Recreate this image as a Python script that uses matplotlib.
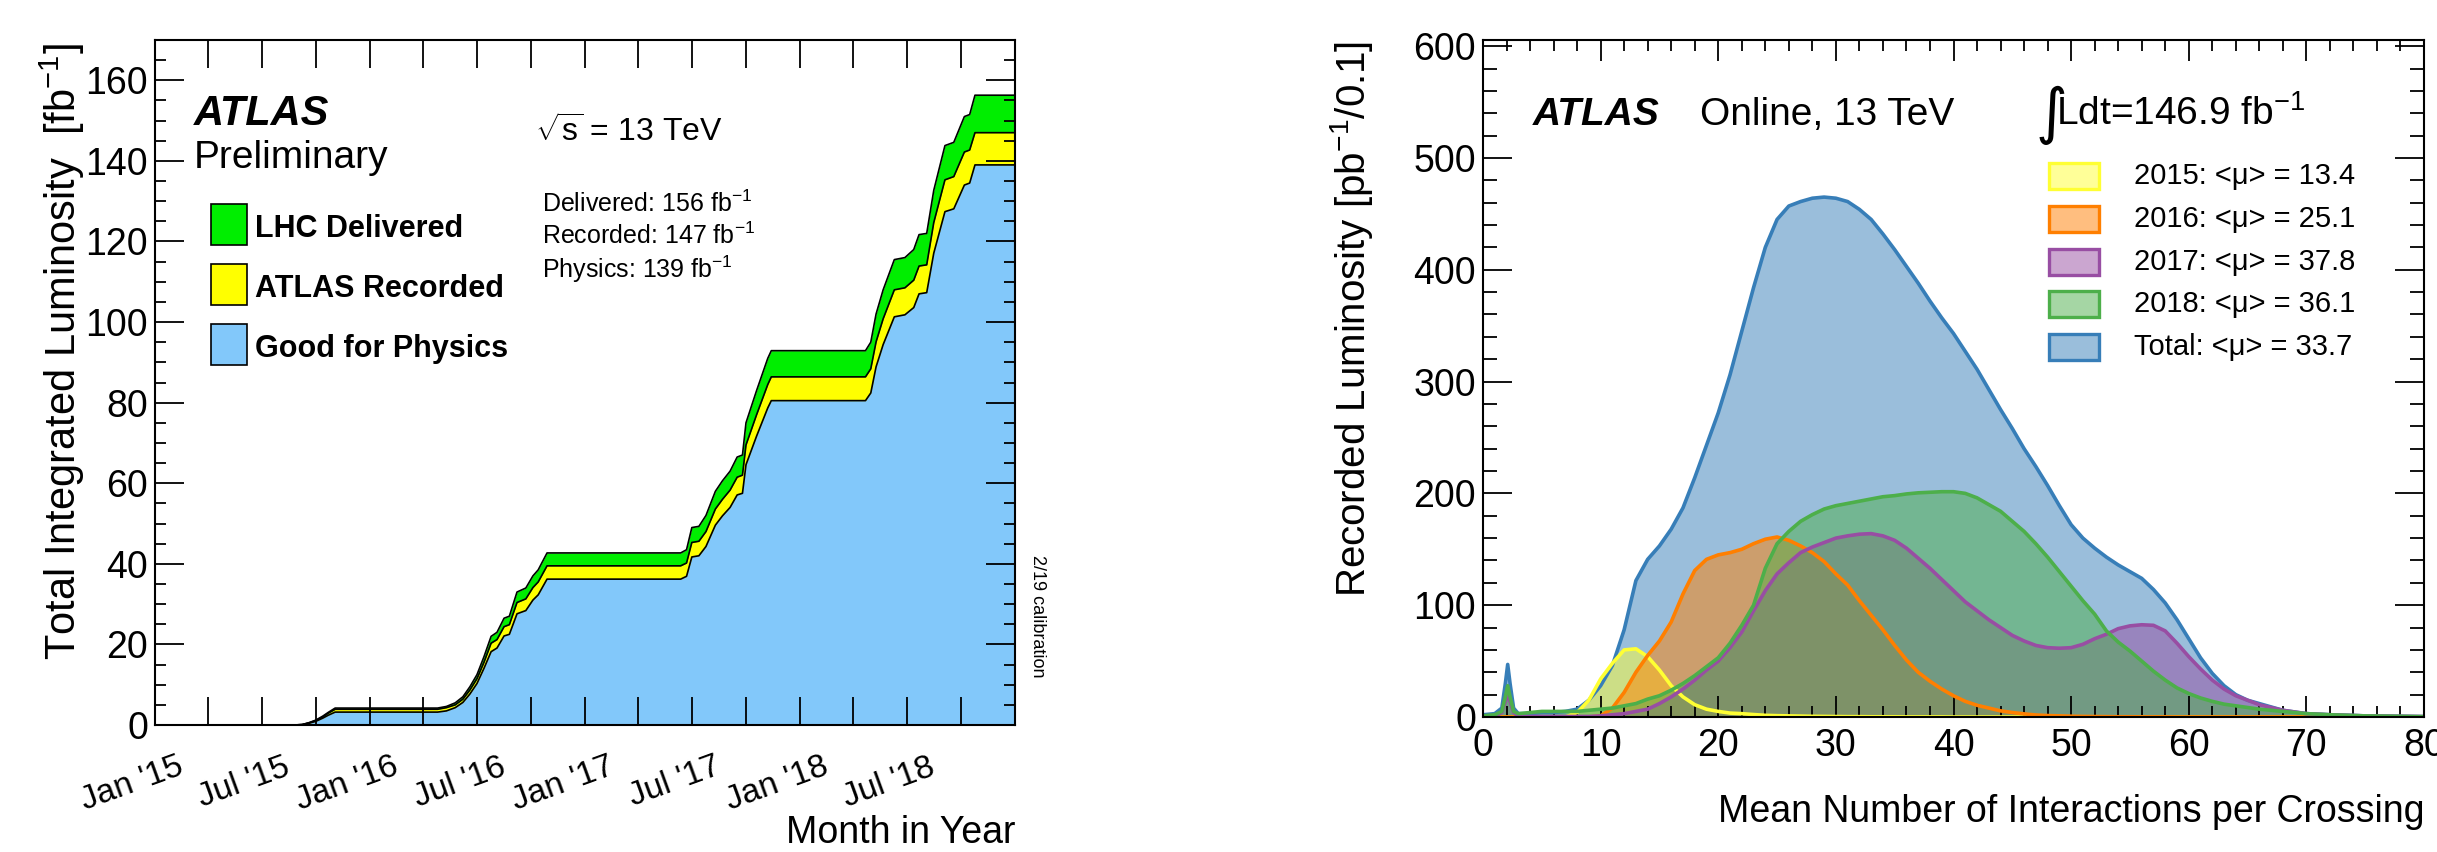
import pandas as pd
import matplotlib.pyplot as plt
import matplotlib.dates as mdates
import matplotlib.transforms as mtransforms
from matplotlib.patches import Rectangle
from matplotlib.ticker import MultipleLocator, FuncFormatter

plt.rcParams['font.family'] = 'Liberation Sans'
plt.rcParams['mathtext.fontset'] = 'custom'
plt.rcParams['mathtext.rm'] = 'Liberation Sans'
plt.rcParams['mathtext.it'] = 'Liberation Sans:italic'
plt.rcParams['mathtext.bf'] = 'Liberation Sans:bold'

# ---- left panel: cumulative luminosity vs date (fb^-1) ----
lumi_dates = ['2015-01-01', '2015-08-25', '2015-09-08', '2015-09-20', '2015-10-01',
              '2015-10-13', '2015-10-22', '2015-11-03', '2016-04-25', '2016-05-10',
              '2016-05-25', '2016-06-07', '2016-06-19', '2016-07-01', '2016-07-13',
              '2016-07-25', '2016-08-04', '2016-08-16', '2016-08-25', '2016-09-07',
              '2016-09-22', '2016-10-04', '2016-10-13', '2016-10-28', '2017-06-12',
              '2017-06-22', '2017-07-01', '2017-07-13', '2017-07-25', '2017-08-10',
              '2017-08-22', '2017-09-04', '2017-09-16', '2017-09-25', '2017-10-01',
              '2017-10-19', '2017-11-07', '2017-11-13', '2018-04-22', '2018-05-01',
              '2018-05-10', '2018-05-22', '2018-06-10', '2018-06-28', '2018-07-13',
              '2018-07-22', '2018-08-04', '2018-08-16', '2018-09-04', '2018-09-19',
              '2018-10-07', '2018-10-16', '2018-10-25', '2019-01-01']
delivered = [0, 0, 0.1, 0.6, 1.2, 2.2, 3.1, 4.2, 4.2, 4.6,
             5.5, 7.0, 9.5, 12.5, 17.0, 22.0, 23.0, 26.5, 27.0, 33.0,
             34.0, 37.0, 38.5, 42.7, 42.7, 43.5, 49.0, 49.3, 52.0, 58.0,
             60.6, 63.0, 66.5, 67.0, 75.0, 83.0, 91.0, 92.9, 92.9, 95.0,
             102.0, 108.0, 115.5, 116.0, 118.0, 121.7, 122.0, 132.7, 143.8, 144.6,
             151.0, 151.5, 156.3, 156.3]
recorded = [0, 0, 0.1, 0.55, 1.1, 2.0, 2.9, 3.9, 3.9, 4.3,
            5.0, 6.4, 8.7, 11.5, 15.6, 20.3, 21.2, 24.4, 24.9, 30.4,
            31.3, 34.1, 35.5, 39.5, 39.5, 40.2, 45.3, 45.6, 48.0, 53.6,
            56.0, 58.3, 61.5, 62.0, 69.5, 77.0, 84.5, 86.4, 86.4, 88.4,
            95.1, 100.8, 108.0, 108.5, 110.4, 113.9, 114.2, 124.7, 135.3, 136.1,
            142.2, 142.7, 147.0, 147.0]
physics = [0, 0, 0.1, 0.45, 0.9, 1.7, 2.4, 3.2, 3.2, 3.5,
           4.3, 5.6, 7.7, 10.3, 14.1, 18.2, 19.1, 22.1, 22.5, 27.6,
           28.4, 31.0, 32.3, 36.2, 36.2, 36.9, 41.7, 42.0, 44.3, 49.6,
           51.9, 54.0, 57.1, 57.5, 64.6, 71.7, 78.7, 80.5, 80.5, 82.4,
           88.9, 94.4, 101.3, 101.8, 103.6, 107.0, 107.3, 117.1, 127.4, 128.1,
           134.0, 134.5, 139.0, 139.0]

# ---- right panel: recorded luminosity vs <mu> (pb^-1/0.1) ----
mu = ([0, 1, 1.6, 1.9, 2.1, 2.3, 2.6, 3] + list(range(4, 67)) + [68, 70, 72, 75, 80])
total = [2, 3, 8, 30, 47, 30, 8, 3,
         3, 4, 4, 5, 7, 15, 28, 46, 78, 122,
         141, 153, 168, 187, 214, 243, 272, 306, 345, 384,
         420, 445, 457, 461, 464, 465, 464, 461, 454, 445,
         432, 418, 403, 388, 372, 357, 343, 327, 311, 293,
         275, 258, 240, 224, 207, 189, 172, 160, 151, 143,
         136, 130, 124, 114, 102, 87, 70, 53, 39, 28,
         20, 15, 12,
         6, 3, 2, 1, 0.3]
y2015 = [0, 0, 0, 0, 0, 0, 0, 0,
         0, 0, 0, 0, 4, 15, 34, 48, 60, 61,
         54, 42, 28, 18, 11, 7, 5, 3.5, 3, 2.2,
         1.5, 1.2, 1, 0.8, 0.6, 0.5, 0.4, 0.3, 0.3, 0.2,
         0.2, 0.2, 0.1, 0.1, 0.1, 0.1, 0, 0, 0, 0,
         0, 0, 0, 0, 0, 0, 0, 0, 0, 0,
         0, 0, 0, 0, 0, 0, 0, 0, 0, 0,
         0, 0, 0,
         0, 0, 0, 0, 0]
y2016 = [0, 0, 0, 0, 0, 0, 0, 0,
         0, 0, 0, 0, 0, 0, 1, 8, 22, 40,
         55, 68, 85, 110, 131, 141, 145, 147, 150, 155,
         159, 161, 158, 153, 147, 139, 128, 118, 104, 91,
         78, 64, 51, 40, 32, 25, 19, 14, 10.5, 8,
         5.5, 4, 2.8, 1.8, 1.3, 1, 0.7, 0.5, 0.4, 0.3,
         0.2, 0.2, 0.1, 0.1, 0.1, 0, 0, 0, 0, 0,
         0, 0, 0,
         0, 0, 0, 0, 0]
y2017 = [0, 0.5, 4, 14, 21, 14, 4, 0.5,
         0.5, 0.5, 0.5, 0.5, 0.5, 0.5, 1, 2, 3, 5,
         7, 12, 18, 25, 33, 42, 50, 62, 76, 95,
         113, 128, 138, 147, 152, 156, 160, 162, 163.5, 164,
         162, 158, 151, 142, 133, 123, 113, 103, 95, 87,
         80, 73, 68, 64, 62, 61.5, 62, 65, 70, 74,
         79, 81.5, 82.5, 82, 77, 66, 54, 43, 33, 25,
         19, 15, 11,
         6, 3, 2, 1, 0.4]
y2018 = [1, 2, 5, 18, 28, 18, 5, 3,
         4, 5, 5, 5, 5, 6, 7, 8, 10, 12,
         16, 19, 24, 30, 37, 45, 53, 66, 82, 100,
         133, 155, 166, 175, 181, 186, 189, 191, 193, 195,
         197, 198, 199.5, 200.5, 201, 201.5, 201.5, 200, 196, 190,
         184, 175, 166, 155, 143, 130, 117, 104, 92, 77,
         67, 59, 50, 41, 33, 26, 21, 17, 14, 11.5,
         10, 8.5, 7,
         5, 3, 2, 1, 0.3]

year_labels = ['2015: <\u03bc> = 13.4', '2016: <\u03bc> = 25.1', '2017: <\u03bc> = 37.8',
               '2018: <\u03bc> = 36.1', 'Total: <\u03bc> = 33.7']

fig = plt.figure(figsize=(24.37, 8.52), dpi=100)

# ================= left panel =================
ax = fig.add_axes([155 / 2437, 127 / 852, 860 / 2437, 685 / 852])
d = pd.to_datetime(lumi_dates)
for vals, col in [(delivered, '#00ee00'), (recorded, '#ffff00'), (physics, '#82c8fa')]:
    ax.fill_between(d, 0, vals, color=col, lw=0)
    ax.plot(d, vals, color='black', lw=1.2)

ax.set_xlim(pd.Timestamp('2015-01-01'), pd.Timestamp('2019-01-01'))
ax.set_ylim(0, 170)


def month_label(x, pos):
    t = mdates.num2date(x)
    if t.year > 2018:
        return ''
    return t.strftime("%b '%y")


ax.xaxis.set_major_locator(mdates.MonthLocator(bymonth=[1, 7]))
ax.xaxis.set_minor_locator(mdates.MonthLocator(bymonth=[4, 10]))
ax.xaxis.set_major_formatter(FuncFormatter(month_label))
ax.yaxis.set_major_locator(MultipleLocator(20))
ax.yaxis.set_minor_locator(MultipleLocator(5))
ax.tick_params(axis='both', which='both', direction='in', top=True, right=True, width=1.3)
ax.tick_params(axis='y', which='major', length=21, labelsize=27, pad=5)
ax.tick_params(axis='y', which='minor', length=8)
ax.tick_params(axis='x', which='both', length=20)
ax.tick_params(axis='x', which='major', labelsize=24, pad=19)
shift = mtransforms.ScaledTranslation(0.22, 0, fig.dpi_scale_trans)
for lab in ax.get_xticklabels():
    lab.set_rotation(20)
    lab.set_ha('right')
    lab.set_va('top')
    lab.set_rotation_mode('anchor')
    lab.set_transform(lab.get_transform() + shift)
for s in ax.spines.values():
    s.set_linewidth(1.5)

ax.text(-0.108, 0.9956, 'Total Integrated Luminosity  [fb$^{-1}$]', transform=ax.transAxes,
        rotation=90, ha='center', va='top', fontsize=30)
ax.text(1.0, -0.172, 'Month in Year', transform=ax.transAxes, ha='right', va='baseline', fontsize=27)
ax.text(0.0453, 0.8759, 'ATLAS', transform=ax.transAxes, fontsize=30, fontweight='bold', style='italic')
ax.text(0.0453, 0.8131, 'Preliminary', transform=ax.transAxes, fontsize=28)
ax.text(0.4419, 0.8511, r'$\sqrt{\mathrm{s}}$ = 13 TeV', transform=ax.transAxes, fontsize=23)
ax.text(0.4495, 0.7489, 'Delivered: 156 fb$^{-1}$', transform=ax.transAxes, fontsize=18)
ax.text(0.4495, 0.7022, 'Recorded: 147 fb$^{-1}$', transform=ax.transAxes, fontsize=18)
ax.text(0.4495, 0.6526, 'Physics: 139 fb$^{-1}$', transform=ax.transAxes, fontsize=18)
ax.text(1.0267, 0.159, '2/19 calibration', transform=ax.transAxes, rotation=270,
        ha='center', va='center', fontsize=13)

leg_rows = [('LHC Delivered', '#00ee00', 0.7007, 0.7124),
            ('ATLAS Recorded', '#ffff00', 0.6131, 0.6248),
            ('Good for Physics', '#82c8fa', 0.5255, 0.5372)]
for name, col, yb, yt in leg_rows:
    ax.add_patch(Rectangle((0.0651, yb), 0.0419, 0.0599, transform=ax.transAxes,
                           facecolor=col, edgecolor='black', lw=1.2, zorder=5))
    ax.text(0.1163, yt, name, transform=ax.transAxes, fontsize=22, fontweight='bold')

# ================= right panel =================
ax2 = fig.add_axes([1483 / 2437, 135 / 852, 941 / 2437, 677 / 852])
series = [(total, '#377eb8'), (y2015, '#ffff33'), (y2016, '#ff7f00'),
          (y2017, '#984ea3'), (y2018, '#4daf4a')]
for vals, col in series:
    ax2.fill_between(mu, 0, vals, color=col, alpha=0.5, lw=0)
for vals, col in series:
    ax2.plot(mu, vals, color=col, lw=2.6)

ax2.set_xlim(0, 80)
ax2.set_ylim(0, 605.5)
ax2.xaxis.set_major_locator(MultipleLocator(10))
ax2.xaxis.set_minor_locator(MultipleLocator(2))
ax2.yaxis.set_major_locator(MultipleLocator(100))
ax2.yaxis.set_minor_locator(MultipleLocator(20))
ax2.tick_params(axis='both', which='both', direction='in', top=True, right=True, width=1.3)
ax2.tick_params(axis='both', which='major', labelsize=27)
ax2.tick_params(axis='x', which='major', length=15, pad=8)
ax2.tick_params(axis='x', which='minor', length=8)
ax2.tick_params(axis='y', which='major', length=21, pad=5)
ax2.tick_params(axis='y', which='minor', length=10)
for s in ax2.spines.values():
    s.set_linewidth(1.5)

ax2.text(-0.140, 0.9985, 'Recorded Luminosity [pb$^{-1}$/0.1]', transform=ax2.transAxes,
         rotation=90, ha='center', va='top', fontsize=29)
ax2.text(1.0, -0.155, 'Mean Number of Interactions per Crossing', transform=ax2.transAxes,
         ha='right', va='baseline', fontsize=27)
ax2.text(0.0531, 0.8744, 'ATLAS', transform=ax2.transAxes, fontsize=28, fontweight='bold', style='italic')
ax2.text(0.2306, 0.8744, 'Online, 13 TeV', transform=ax2.transAxes, fontsize=28)
ax2.text(0.5870, 0.8640, '\u222b', transform=ax2.transAxes, fontsize=44, family='DejaVu Sans')
ax2.text(0.6089, 0.8744, 'Ldt=146.9 fb$^{-1}$', transform=ax2.transAxes, fontsize=28)

leg_y = [0.799, 0.736, 0.672, 0.610, 0.546]
leg_cols = ['#ffff33', '#ff7f00', '#984ea3', '#4daf4a', '#377eb8']
for lab, col, yc in zip(year_labels, leg_cols, leg_y):
    ax2.add_patch(Rectangle((0.6015, yc - 0.0192), 0.053, 0.0384, transform=ax2.transAxes,
                            facecolor=col, alpha=0.5, lw=0, zorder=5))
    ax2.add_patch(Rectangle((0.6015, yc - 0.0192), 0.053, 0.0384, transform=ax2.transAxes,
                            facecolor='none', edgecolor=col, lw=2.4, zorder=6))
    ax2.text(0.692, yc, lab, transform=ax2.transAxes, fontsize=21, va='center')

fig.savefig('out.png', dpi=100)
